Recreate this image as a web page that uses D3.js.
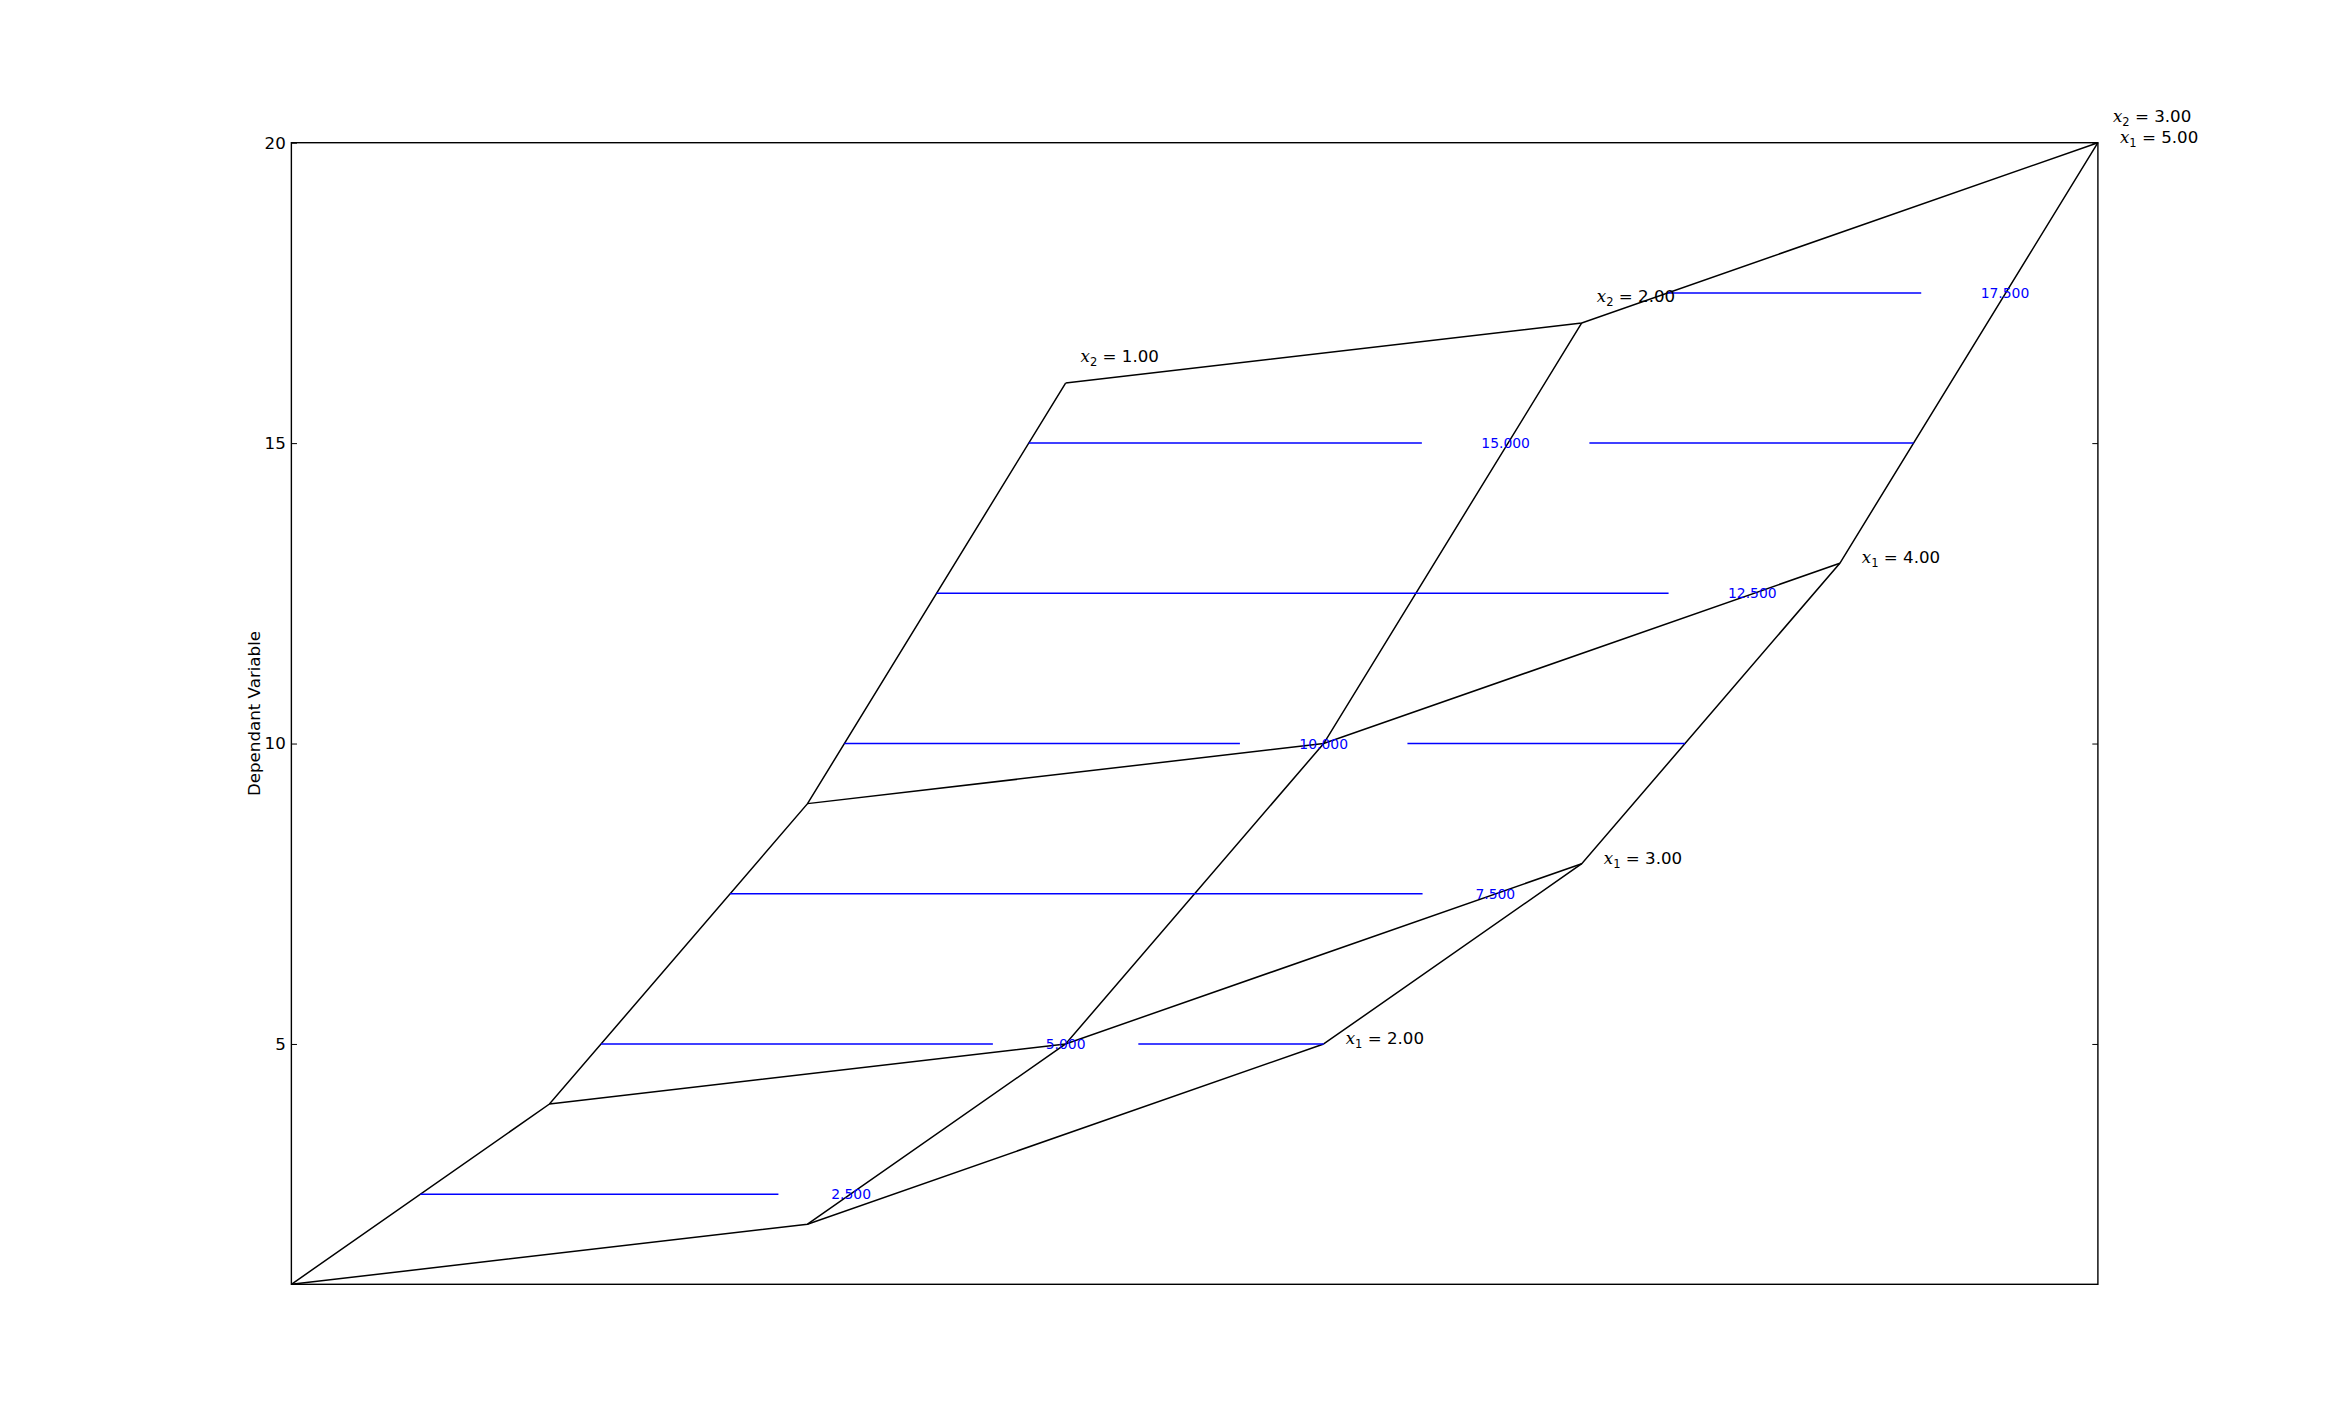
<!DOCTYPE html>
<html>
<head>
<meta charset="utf-8">
<script src="https://cdn.jsdelivr.net/npm/d3@7/dist/d3.min.js"></script>
<style>
  html, body { margin: 0; padding: 0; background: #ffffff; }
  svg { display: block; }
</style>
</head>
<body>
<script>
// ---------------- data ----------------
const x1Values = [2, 3, 4, 5];           // independent variable 1
const x2Values = [1, 2, 3];              // independent variable 2
// dependent variable, one row per x2 value, one column per x1 value
const yRowX2_1 = [1, 4, 9, 16];
const yRowX2_2 = [2, 5, 10, 17];
const yRowX2_3 = [5, 8, 13, 20];
const yGrid = [yRowX2_1, yRowX2_2, yRowX2_3];

const contourLevels = [2.5, 5, 7.5, 10, 12.5, 15, 17.5];
const contourLabels = ["2.500", "5.000", "7.500", "10.000", "12.500", "15.000", "17.500"];
// where each contour label sits along the cheater axis
const contourLabelAt = [2.169, 3.0, 4.665, 4.0, 5.661, 4.705, 6.640];

const yTicks = [5, 10, 15, 20];
const yTickLabels = ["5", "10", "15", "20"];
const yLabel = "Dependant Variable";

(function () {
// ---------------- layout ----------------
const W = 2331, H = 1427;
const pL = 0.125 * W, pR = 0.9 * W, pT = 0.1 * H, pB = 0.9 * H;
const cheaterStep = 2; // cheater axis: x = i + 2*j

const svg = d3.select("body").append("svg")
  .attr("width", W).attr("height", H)
  .style("font-family", "'DejaVu Sans', sans-serif");

const cheat = (i, j) => i + cheaterStep * j;
const nI = x1Values.length, nJ = x2Values.length;
const cheatMax = cheat(nI - 1, nJ - 1);

const xS = d3.scaleLinear().domain([0, cheatMax]).range([pL, pR]);
const yS = d3.scaleLinear().domain([1, 20]).range([pB, pT]);

const line = d3.line().x(d => xS(d[0])).y(d => yS(d[1]));
const g = svg.append("g");

// carpet: constant-x2 lines
x2Values.forEach((x2, j) => {
  const pts = x1Values.map((x1, i) => [cheat(i, j), yGrid[j][i]]);
  g.append("path").attr("d", line(pts)).attr("fill", "none")
    .attr("stroke", "#000").attr("stroke-width", 1.5);
});
// carpet: constant-x1 lines
x1Values.forEach((x1, i) => {
  const pts = x2Values.map((x2, j) => [cheat(i, j), yGrid[j][i]]);
  g.append("path").attr("d", line(pts)).attr("fill", "none")
    .attr("stroke", "#000").attr("stroke-width", 1.5);
});

// boundaries for contour extents
const leftPath = [];
x1Values.forEach((_, i) => leftPath.push([cheat(i, 0), yGrid[0][i]]));
for (let j = 1; j < nJ; j++) leftPath.push([cheat(nI - 1, j), yGrid[j][nI - 1]]);
const rightPath = [];
x2Values.forEach((_, j) => rightPath.push([cheat(0, j), yGrid[j][0]]));
for (let i = 1; i < nI; i++) rightPath.push([cheat(i, nJ - 1), yGrid[nJ - 1][i]]);

function xAt(path, v) {
  for (let k = 0; k < path.length - 1; k++) {
    const a = path[k], b = path[k + 1];
    if ((v - a[1]) * (v - b[1]) <= 0 && a[1] !== b[1]) {
      return a[0] + (v - a[1]) / (b[1] - a[1]) * (b[0] - a[0]);
    }
  }
  return null;
}

const blue = "#0000ff";
contourLevels.forEach((v, n) => {
  const xl = xS(xAt(leftPath, v)), xr = xS(xAt(rightPath, v));
  const y = yS(v);
  const lx = xS(contourLabelAt[n]);
  const t = g.append("text").attr("x", lx).attr("y", y)
    .attr("text-anchor", "middle").attr("dominant-baseline", "central")
    .attr("fill", blue).style("font-size", "13.9px").text(contourLabels[n]);
  const tw = t.node().getComputedTextLength();
  const gap = tw * 1.25 + 23;
  if (lx - gap > xl) g.append("line").attr("x1", xl).attr("x2", lx - gap)
    .attr("y1", y).attr("y2", y).attr("stroke", blue).attr("stroke-width", 1.5);
  if (lx + gap < xr) g.append("line").attr("x1", lx + gap).attr("x2", xr)
    .attr("y1", y).attr("y2", y).attr("stroke", blue).attr("stroke-width", 1.5);
});

// curve labels
function mathLabel(x, y, sub, value) {
  const t = g.append("text").attr("x", x).attr("y", y).style("font-size", "16.67px");
  t.append("tspan").style("font-family", "'DejaVu Serif', serif").style("font-style", "italic").text("x");
  t.append("tspan").attr("dy", 4).style("font-size", "11.5px").text(sub);
  t.append("tspan").attr("dy", -4).text(" = " + value.toFixed(2));
}
x1Values.forEach((x1, i) => {
  const j = nJ - 1;
  mathLabel(xS(cheat(i, j)) + 22, yS(yGrid[j][i]) + 0, "1", x1);
});
x2Values.forEach((x2, j) => {
  const i = nI - 1;
  mathLabel(xS(cheat(i, j)) + 15, yS(yGrid[j][i]) - 21, "2", x2);
});

// axes frame
svg.append("rect").attr("x", pL).attr("y", pT)
  .attr("width", pR - pL).attr("height", pB - pT)
  .attr("fill", "none").attr("stroke", "#000").attr("stroke-width", 1.4);

// y axis: ticks inside on both sides
const axL = svg.append("g").attr("transform", `translate(${pL},0)`)
  .call(d3.axisLeft(yS).tickValues(yTicks).tickFormat((d, k) => yTickLabels[k])
    .tickSizeInner(-5.6).tickSizeOuter(0).tickPadding(5.6));
axL.select(".domain").remove();
axL.selectAll("text").style("font-size", "16.67px").style("font-family", "'DejaVu Sans', sans-serif").attr("fill", "#000");
axL.selectAll("line").attr("stroke", "#000").attr("stroke-width", 1);

const axR = svg.append("g").attr("transform", `translate(${pR},0)`)
  .call(d3.axisRight(yS).tickValues(yTicks).tickFormat("")
    .tickSizeInner(-5.6).tickSizeOuter(0));
axR.select(".domain").remove();
axR.selectAll("line").attr("stroke", "#000").attr("stroke-width", 1);

svg.append("text")
  .attr("transform", `translate(${254 + 6},${(pT + pB) / 2}) rotate(-90)`)
  .attr("text-anchor", "middle")
  .style("font-size", "16.67px").text(yLabel);
})();
</script>
</body>
</html>
